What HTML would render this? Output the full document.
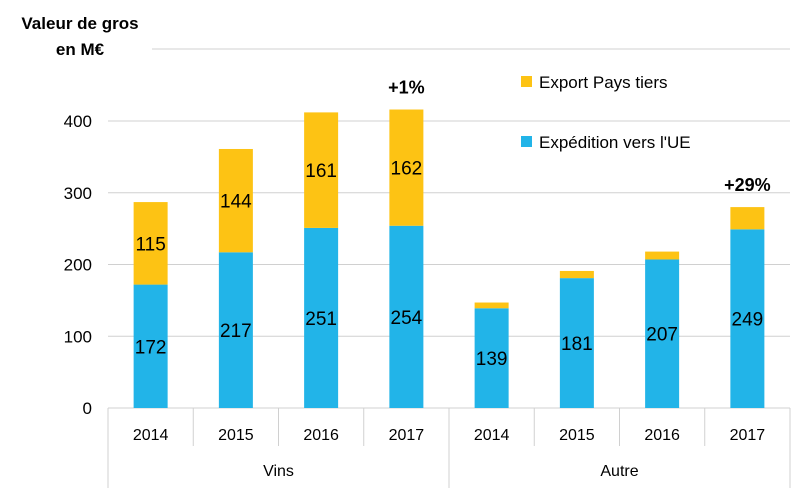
<!DOCTYPE html>
<html><head><meta charset="utf-8"><style>
body{margin:0;background:#fff;width:809px;height:488px;overflow:hidden}
svg{display:block;font-family:"Liberation Sans",sans-serif}
</style></head><body>
<svg id="chart" width="809" height="488"></svg>
<script>
const years=["2014","2015","2016","2017","2014","2015","2016","2017"];
const groups=["Vins","Autre"];
const ueValues=[172,217,251,254,139,181,207,249];
const exportValues=[115,144,161,162,8,10,11,31];
const exportLabels=["115","144","161","162","","","",""];
const yTicks=[0,100,200,300,400];
const growthLabels=[{idx:3,text:"+1%"},{idx:7,text:"+29%"}];

const NS="http://www.w3.org/2000/svg";
const svg=document.getElementById('chart');
function el(t,a,txt){const e=document.createElementNS(NS,t);for(const k in a)e.setAttribute(k,a[k]);if(txt!==undefined)e.textContent=txt;svg.appendChild(e);return e;}
const x0=108,x1=790,y0=408,pxPer=0.7175;
const bw=(x1-x0)/years.length;
const yS=v=>y0-v*pxPer;
const xC=i=>x0+bw*(i+0.5);

let g=el('line',{x1:152,x2:x1,y1:49,y2:49,stroke:'#d0d0d0','stroke-width':1});

yTicks.forEach(t=>{
  if(t>0){const l=el('line',{x1:x0,x2:x1,y1:yS(t),y2:yS(t),stroke:'#d0d0d0','stroke-width':1});
  }
  const tx=el('text',{x:92,y:yS(t)+6,'text-anchor':'end','font-size':17,fill:'#000'},String(t));
  
});
const ax=el('line',{x1:x0,x2:x1,y1:y0,y2:y0,stroke:'#d0d0d0','stroke-width':1});


for(let i=0;i<years.length;i++){
  const cx=xC(i),w=34;
  const r1=el('rect',{x:cx-w/2,y:yS(ueValues[i]),width:w,height:ueValues[i]*pxPer,fill:'#22b4e8'});
  
  const top=ueValues[i]+exportValues[i];
  const r2=el('rect',{x:cx-w/2,y:yS(top),width:w,height:exportValues[i]*pxPer,fill:'#fdc314'});
  
  const l1=el('text',{x:cx,y:yS(ueValues[i]/2)+7,'text-anchor':'middle','font-size':19,fill:'#000'},String(ueValues[i]));
  
  if(exportLabels[i]){const l2=el('text',{x:cx,y:yS(ueValues[i]+exportValues[i]/2)+7,'text-anchor':'middle','font-size':19,fill:'#000'},exportLabels[i]);
  }
  const yl=el('text',{x:cx,y:440,'text-anchor':'middle','font-size':16,fill:'#000'},years[i]);
  
  const sep=el('line',{x1:x0+bw*i,x2:x0+bw*i,y1:y0,y2:(i%4===0)?488:446,stroke:'#d0d0d0','stroke-width':1});
  
}
const endSep=el('line',{x1:x1,x2:x1,y1:y0,y2:488,stroke:'#d0d0d0','stroke-width':1});

groups.forEach((gname,j)=>{
  const t=el('text',{x:x0+bw*(4*j+2),y:476,'text-anchor':'middle','font-size':16,fill:'#000'},gname);
  
});
growthLabels.forEach(gl=>{
  const top=ueValues[gl.idx]+exportValues[gl.idx];
  const t=el('text',{x:xC(gl.idx),y:yS(top)-16,'text-anchor':'middle','font-size':18,'font-weight':'bold',fill:'#000'},gl.text);
  
});
const t1=el('text',{x:80,y:29,'text-anchor':'middle','font-size':17,'font-weight':'bold',fill:'#000'},'Valeur de gros');

const t2=el('text',{x:80,y:55,'text-anchor':'middle','font-size':17,'font-weight':'bold',fill:'#000'},'en M€');

const lg1=el('rect',{x:521,y:76,width:11,height:11,fill:'#fdc314'});

const lt1=el('text',{x:539,y:88,'font-size':17,fill:'#000'},'Export Pays tiers');

const lg2=el('rect',{x:521,y:136,width:11,height:11,fill:'#22b4e8'});

const lt2=el('text',{x:539,y:148,'font-size':17,fill:'#000'},"Expédition vers l'UE");

</script>
</body></html>
